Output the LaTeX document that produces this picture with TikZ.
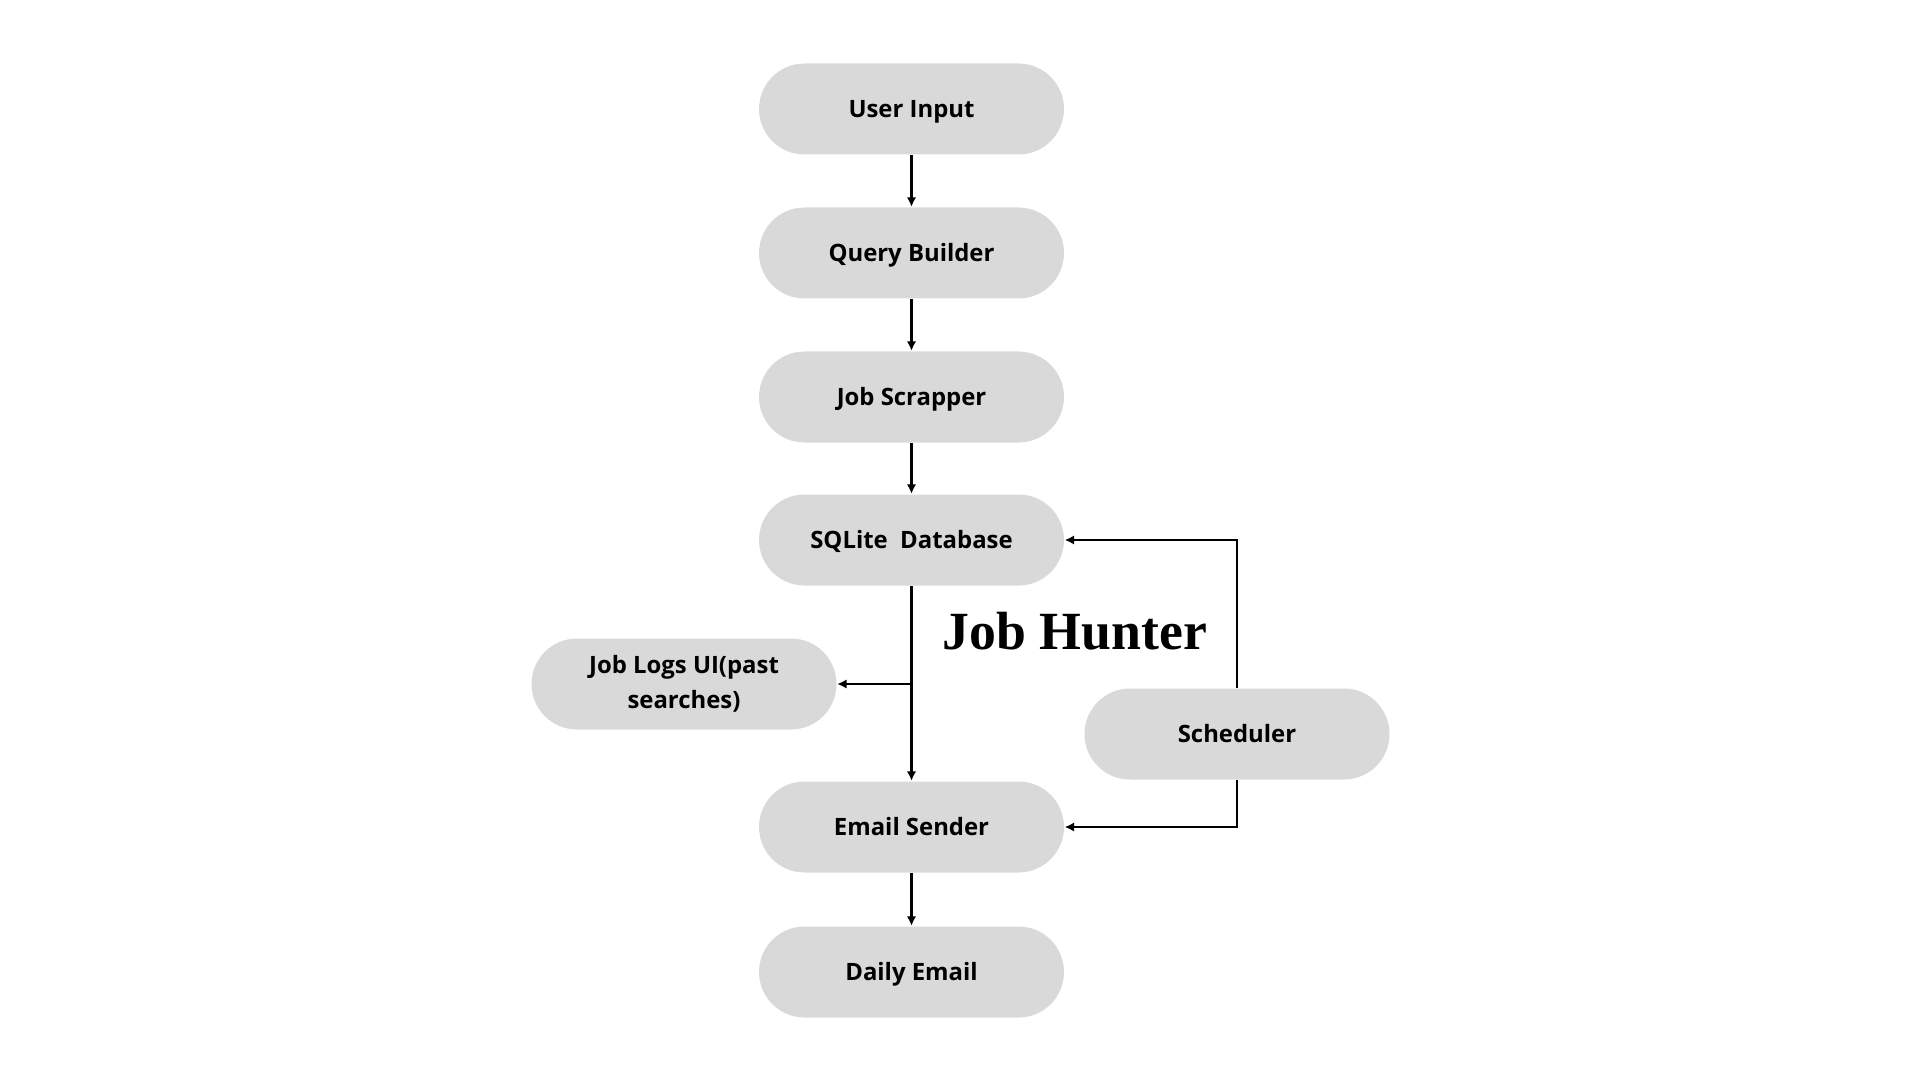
\documentclass[tikz,border=0pt]{standalone}
\usepackage{fontspec}
\setmainfont{Open Sans}
\newfontfamily\titlefont{Liberation Serif}
\usetikzlibrary{arrows.meta}
\definecolor{pillgray}{HTML}{D9D9D9}
\tikzset{
  pillbase/.style={fill=pillgray, rounded corners=0.455cm, minimum width=3.05cm,
    minimum height=0.91cm, align=center, inner sep=0pt,
    font=\fontsize{6.8}{10}\selectfont\bfseries},
  pill/.style={pillbase, text height=0.72em, text depth=0.22em},
  link/.style={line width=0.75pt, ->}
}
\begin{document}
\begin{tikzpicture}[>={Latex[length=0.95mm,width=0.95mm]}]
\useasboundingbox (0,0) rectangle (19.2,-10.8);

\node[pill] (input) at (9.115, -1.09) {User Input};
\node[pill] (query) at (9.115, -2.53) {Query Builder};
\node[pill] (scraper) at (9.115, -3.97) {Job Scrapper};
\node[pill] (db) at (9.115, -5.40) {SQLite\ \ Database};
\node[pillbase] (logs) at (6.84, -6.84) {Job Logs UI(past\\searches)};
\node[pill] (sender) at (9.115, -8.27) {Email Sender};
\node[pill] (daily) at (9.115, -9.72) {Daily Email};
\node[pill] (scheduler) at (12.37, -7.34) {Scheduler};

\node (title) at (10.75, -6.31) {\titlefont\fontsize{15.3}{18}\selectfont\bfseries Job Hunter};

\path[link] (input) edge node {} (query);
\path[link] (query) edge node {} (scraper);
\path[link] (scraper) edge node {} (db);
\path[link] (db) edge node {} (sender);
\path[link] (sender) edge node {} (daily);

\coordinate (split) at (db.south |- logs.east);
\path[link] (split) edge node {} (logs.east);

\draw[link] (scheduler.north) |- (db.east);
\draw[link] (scheduler.south) |- (sender.east);
\end{tikzpicture}
\end{document}
